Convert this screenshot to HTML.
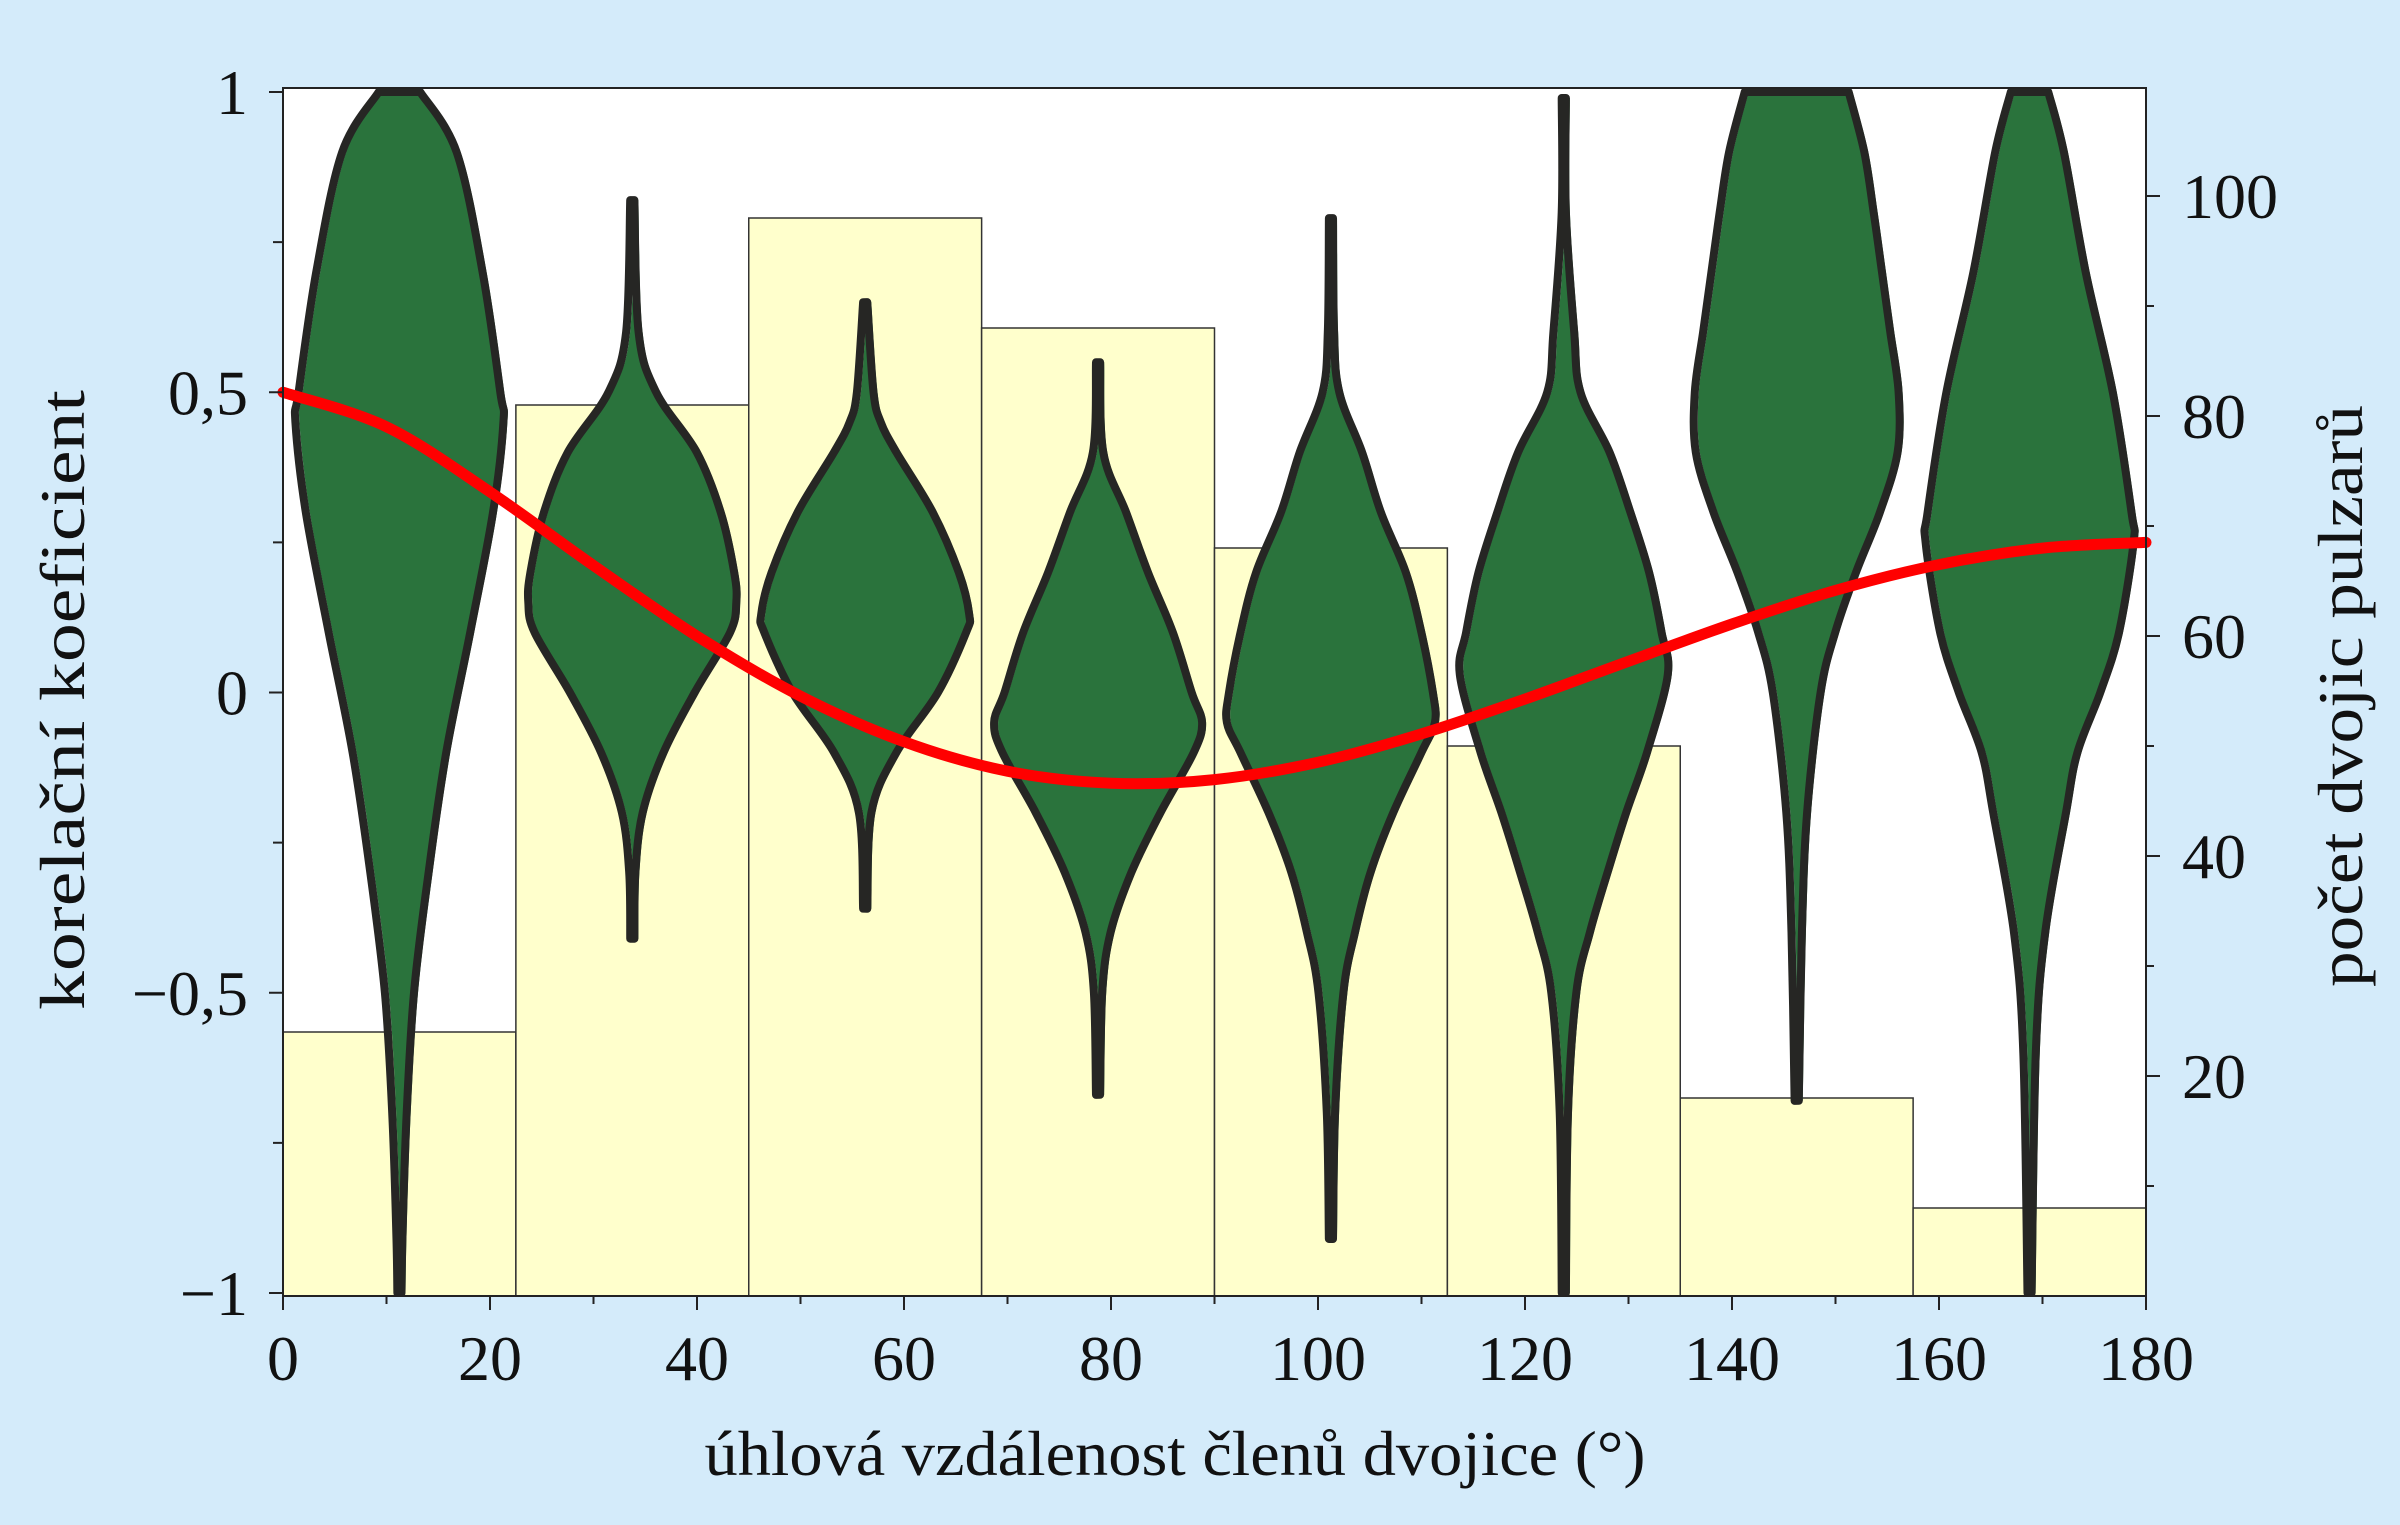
<!DOCTYPE html>
<html><head><meta charset="utf-8"><style>
html,body{margin:0;padding:0;background:#d4ebfa;}
svg{display:block;font-family:"Liberation Serif",serif;}
</style></head><body>
<svg id="chart" width="2400" height="1525" viewBox="0 0 2400 1525" xmlns="http://www.w3.org/2000/svg">
<rect x="0" y="0" width="2400" height="1525" fill="#d4ebfa"/>
<rect x="283" y="88" width="1863" height="1208" fill="#ffffff"/>
<g id="bars"></g>
<g id="violins"></g>
<g id="curve"></g>
<rect x="283" y="88" width="1863" height="1208" fill="none" stroke="#222" stroke-width="2"/>
<g id="axes"></g>
<text x="1175" y="1475" font-size="64" text-anchor="middle" textLength="941" lengthAdjust="spacingAndGlyphs" fill="#111">úhlová vzdálenost členů dvojice (°)</text>
<text transform="translate(84,700) rotate(-90)" font-size="64" text-anchor="middle" textLength="620" lengthAdjust="spacingAndGlyphs" fill="#111">korelační koeficient</text>
<text transform="translate(2362,696) rotate(-90)" font-size="64" text-anchor="middle" textLength="582" lengthAdjust="spacingAndGlyphs" fill="#111">počet dvojic pulzarů</text>
</svg>
<script>
const barCounts=[24,81,98,88,68,50,18,8];
const binWidth=22.5;
const curveAngles=[0,10,20,30,40,50,60,70,80,90,100,110,120,130,140,150,160,170,180];
const curveValues=[0.5,0.4425,0.334,0.2115,0.094,-0.006,-0.082,-0.131,-0.151,-0.145,-0.116,-0.069,-0.011,0.052,0.114,0.170,0.213,0.2405,0.25];
const violinCenters=[11.25,33.75,56.25,78.75,101.25,123.75,146.25,168.75];
const violinProfiles=[
 [[1,0.2],[0.9,0.55],[0.7,0.8],[0.5,0.97],[0.45,1],[0.3,0.9],[0.1,0.68],[-0.1,0.45],[-0.3,0.28],[-0.5,0.14],[-0.7,0.07],[-0.9,0.03],[-1,0.02]],
 [[0.82,0.02],[0.6,0.06],[0.5,0.23],[0.4,0.62],[0.3,0.85],[0.2,0.98],[0.15,1],[0.1,0.94],[0,0.6],[-0.1,0.3],[-0.2,0.1],[-0.3,0.03],[-0.41,0.02]],
 [[0.65,0.02],[0.5,0.08],[0.45,0.15],[0.4,0.3],[0.3,0.65],[0.2,0.9],[0.13,1],[0.1,0.97],[0,0.7],[-0.1,0.3],[-0.2,0.06],[-0.36,0.02]],
 [[0.55,0.02],[0.4,0.05],[0.3,0.27],[0.2,0.48],[0.1,0.72],[0,0.9],[-0.05,1],[-0.1,0.92],[-0.2,0.6],[-0.3,0.32],[-0.4,0.12],[-0.5,0.04],[-0.67,0.02]],
 [[0.79,0.02],[0.6,0.03],[0.5,0.08],[0.4,0.3],[0.3,0.48],[0.2,0.72],[0.1,0.87],[0,0.98],[-0.05,1],[-0.1,0.87],[-0.2,0.6],[-0.3,0.38],[-0.4,0.23],[-0.5,0.12],[-0.7,0.04],[-0.91,0.02]],
 [[0.99,0.02],[0.8,0.02],[0.6,0.1],[0.5,0.16],[0.4,0.44],[0.3,0.64],[0.2,0.82],[0.1,0.94],[0.03,1],[-0.1,0.8],[-0.2,0.6],[-0.3,0.42],[-0.4,0.25],[-0.5,0.12],[-0.7,0.04],[-1,0.02]],
 [[1,0.5],[0.9,0.65],[0.8,0.74],[0.7,0.82],[0.6,0.9],[0.5,0.98],[0.4,0.97],[0.3,0.8],[0.2,0.57],[0.1,0.37],[0,0.23],[-0.2,0.1],[-0.4,0.05],[-0.68,0.02]],
 [[1,0.18],[0.9,0.33],[0.7,0.54],[0.5,0.8],[0.3,0.98],[0.25,1],[0.1,0.86],[0,0.68],[-0.1,0.46],[-0.2,0.35],[-0.4,0.15],[-0.6,0.06],[-1,0.02]]
];
const xTicks=[0,20,40,60,80,100,120,140,160,180];
const yTicks=[1,0.5,0,-0.5,-1];
const yTickLabels=["1","0,5","0","\u22120,5","\u22121"];
const y2Ticks=[20,40,60,80,100];
</script>
<script>
const NS="http://www.w3.org/2000/svg";
const X0=283,X1=2146,YT=92,YB=1293;
const xs=d=>X0+(d/180)*(X1-X0);
const ys=v=>YT+(1-v)/2*(YB-YT);
const y2=c=>1296-c*11.0;
const HW=104;
function mk(tag,attrs,parent){const e=document.createElementNS(NS,tag);for(const k in attrs)e.setAttribute(k,attrs[k]);parent.appendChild(e);return e;}
const gB=document.getElementById('bars');
barCounts.forEach((c,i)=>{
 const r=mk('rect',{x:xs(i*binWidth),y:y2(c),width:xs((i+1)*binWidth)-xs(i*binWidth),height:1296-y2(c),fill:'#ffffcc',stroke:'#333','stroke-width':1.5},gB);
 
 
});
function smooth(pts){
 let d='M'+pts[0][0]+','+pts[0][1];
 for(let i=0;i<pts.length-1;i++){
  const p0=pts[Math.max(0,i-1)],p1=pts[i],p2=pts[i+1],p3=pts[Math.min(pts.length-1,i+2)];
  const c1=[p1[0]+(p2[0]-p0[0])/6,p1[1]+(p2[1]-p0[1])/6];
  const c2=[p2[0]-(p3[0]-p1[0])/6,p2[1]-(p3[1]-p1[1])/6];
  d+=' C'+c1[0].toFixed(1)+','+c1[1].toFixed(1)+' '+c2[0].toFixed(1)+','+c2[1].toFixed(1)+' '+p2[0].toFixed(1)+','+p2[1].toFixed(1);
 }
 return d;
}
const gV=document.getElementById('violins');
violinProfiles.forEach((prof,i)=>{
 const cx=xs(violinCenters[i]);
 const right=prof.map(p=>[cx+p[1]*HW,ys(p[0])]);
 const left=prof.slice().reverse().map(p=>[cx-p[1]*HW,ys(p[0])]);
 const d=smooth(right)+' L'+left[0][0]+','+left[0][1]+smooth(left).replace(/^M[^ ]+/,'')+' Z';
 const fill=mk('path',{d:d,fill:'#2a733c',stroke:'none',transform:'translate(4,0)'},gV);
 
 
 const out=mk('path',{d:d,fill:'none',stroke:'#262624','stroke-width':8,'stroke-linejoin':'round'},gV);
 
 
});
const gC=document.getElementById('curve');
const cp=curveAngles.map((a,i)=>[xs(a),ys(curveValues[i])]);
const cl=mk('path',{d:smooth(cp),fill:'none',stroke:'#ff0000','stroke-width':11,'stroke-linecap':'round'},gC);


const gA=document.getElementById('axes');
for(let d=0;d<=180;d+=10){const t=mk('line',{x1:xs(d),x2:xs(d),y1:1296,y2:d%20===0?1310:1304,stroke:'#222','stroke-width':2},gA);}
xTicks.forEach(d=>{const t=mk('text',{x:xs(d),y:1380,'font-size':64,'text-anchor':'middle',fill:'#111'},gA);t.textContent=String(d);});
for(let v=-1;v<=1.001;v+=0.25){const t=mk('line',{x1:283,x2:Math.abs((v*2)%1)<0.01?269:273,y1:ys(v),y2:ys(v),stroke:'#222','stroke-width':2},gA);}
yTicks.forEach((v,i)=>{const t=mk('text',{x:248,y:ys(v)+22,'font-size':64,'text-anchor':'end',fill:'#111'},gA);t.textContent=yTickLabels[i];});
for(let c=10;c<=100;c+=10){const t=mk('line',{x1:2146,x2:c%20===0?2160:2154,y1:y2(c),y2:y2(c),stroke:'#222','stroke-width':2},gA);}
y2Ticks.forEach(c=>{const t=mk('text',{x:2182,y:y2(c)+22,'font-size':64,'text-anchor':'start',fill:'#111'},gA);t.textContent=String(c);});
</script>
</body></html>
